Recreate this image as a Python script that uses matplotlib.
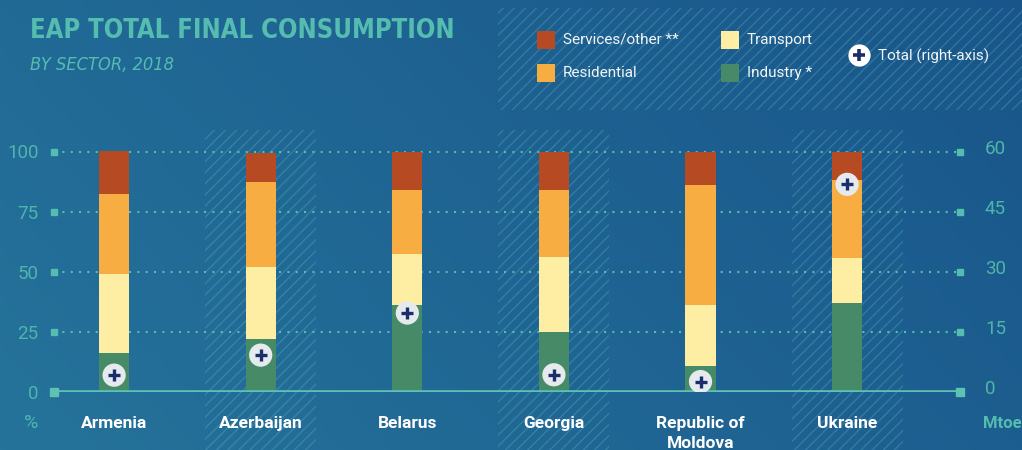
import numpy as np
import matplotlib
matplotlib.use("Agg")
import matplotlib.pyplot as plt
from matplotlib import font_manager as fm
from matplotlib.patches import Rectangle
from matplotlib.lines import Line2D
from matplotlib.transforms import blended_transform_factory, ScaledTranslation

# shares by sector (% of TFC) and total (Mtoe)
countries = ["Armenia", "Azerbaijan", "Belarus", "Georgia", "Republic of\nMoldova", "Ukraine"]
industry = [16.4, 22.0, 36.3, 25.0, 10.8, 37.0]
transport = [32.8, 29.8, 21.2, 31.2, 25.4, 18.8]
residential = [33.3, 35.7, 26.5, 27.8, 50.0, 32.5]
services = [17.5, 12.0, 16.0, 16.0, 13.8, 11.7]
total_mtoe = [4.2, 9.2, 19.7, 4.3, 2.6, 51.8]
left_ticks = [0, 25, 50, 75, 100]
right_ticks = [0, 15, 30, 45, 60]

C_SERV = "#b54a23"
C_RES = "#f7ad42"
C_TRANS = "#fdeea4"
C_IND = "#478a68"
TEAL = "#55bdb0"
TEAL_DIM = "#4fb5aa"
NAVY = "#1b2d6b"
HATCH = (0.40, 0.78, 0.80, 0.27)

plt.rcParams["font.family"] = ["Roboto", "DejaVu Sans"]
plt.rcParams["hatch.linewidth"] = 1.0

W, H = 1022, 450
fig = plt.figure(figsize=(W / 100, H / 100), dpi=100)


def fx(px):
    return px / W


def fy(py):
    return 1 - py / H


def have(props):
    try:
        path = fm.findfont(props, fallback_to_default=False)
        return path
    except Exception:
        return None


# condensed font for the heading
title_kw = dict(family=["Roboto", "DejaVu Sans"])
if have(fm.FontProperties(family="Liberation Sans Narrow")):
    title_kw = dict(family=["Liberation Sans Narrow", "DejaVu Sans"])
else:
    p = have(fm.FontProperties(family="DejaVu Sans", stretch="condensed", weight="bold"))
    if p and "Condensed" in p:
        title_kw = dict(family=["DejaVu Sans"], fontstretch="condensed")

# background gradient
bg = fig.add_axes([0, 0, 1, 1], zorder=-10)
gx, gy = np.meshgrid(np.linspace(0, 1, 200), np.linspace(0, 1, 100))
t = 0.7 * gx + 0.3 * (1 - gy)
c0 = np.array([37, 115, 155]) / 255
c1 = np.array([25, 85, 138]) / 255
img = c0[None, None, :] * (1 - t[..., None]) + c1[None, None, :] * t[..., None]
bg.imshow(img, aspect="auto", extent=[0, 1, 0, 1])
bg.axis("off")

# main axes
ax = fig.add_axes([fx(54), fy(392), fx(960) - fx(54), fy(140) - fy(392)])
ax.patch.set_alpha(0)
ytop = (392 - 140) / ((392 - 151.5) / 100)
x = np.arange(len(countries))

# hatched bands behind every other country
band_tr = blended_transform_factory(ax.transData, fig.transFigure)
for i in [1, 3, 5]:
    fig.add_artist(Rectangle((i - 0.378, 0), 0.757, fy(130), transform=band_tr,
                             facecolor="none", edgecolor=HATCH, hatch="///",
                             lw=0, zorder=-5))
# hatched legend panel
fig.add_artist(Rectangle((fx(498), fy(110)), 1 - fx(498), fy(8) - fy(110),
                         transform=fig.transFigure, facecolor="none",
                         edgecolor=HATCH, hatch="///", lw=0, zorder=-5))

for v in left_ticks[1:]:
    ax.axhline(v, color=TEAL, lw=1.5, ls=(0, (1, 3)), zorder=1)
ax.axhline(0, color="#5cc2b4", lw=2.6, zorder=4)

ytr = ax.get_yaxis_transform()
for side in [0, 1]:
    ax.plot([side] * 4, left_ticks[1:], "s", transform=ytr, ms=3.8, color=TEAL,
            clip_on=False, zorder=5)
    ax.plot([side], [0], "s", transform=ytr, ms=5.8, color="#5cc2b4",
            clip_on=False, zorder=5)

bw = 0.205
bottom = np.zeros(len(x))
for vals, col in [(industry, C_IND), (transport, C_TRANS), (residential, C_RES), (services, C_SERV)]:
    ax.bar(x, vals, bw, bottom=bottom, color=col, zorder=3)
    bottom += np.array(vals)

ax.set_xlim(-0.41, 5.77)
ax.set_ylim(0, ytop)
for s in ax.spines.values():
    s.set_visible(False)
ax.set_yticks(left_ticks)
ax.set_yticklabels([str(v) for v in left_ticks], fontsize=13.5, color=TEAL_DIM)
ax.tick_params(axis="y", length=0, pad=11)
ax.set_xticks(x)
ax.set_xticklabels(countries, fontsize=12.5, fontweight="bold", color="white",
                   linespacing=1.45)
ax.tick_params(axis="x", length=0, pad=17)

ax2 = ax.twinx()
ax2.set_ylim(0, 60 * ytop / 100)
for s in ax2.spines.values():
    s.set_visible(False)
ax2.set_yticks(right_ticks)
ax2.set_yticklabels([str(v) for v in right_ticks], fontsize=13.5, color=TEAL_DIM)
ax2.tick_params(axis="y", length=0, pad=18)
lift = ScaledTranslation(0, 5 / 100, fig.dpi_scale_trans)
for lab in ax2.get_yticklabels():
    lab.set_transform(lab.get_transform() + lift)
ax2.scatter(x, total_mtoe, s=280, color="#e4eaed", edgecolors="none", zorder=6)
ax2.scatter(x, total_mtoe, s=75, marker="+", color=NAVY, linewidths=2.4, zorder=7)

fig.text(fx(31), fy(423), "%", ha="center", va="center", fontsize=14,
         color=TEAL_DIM)
fig.text(fx(983), fy(423), "Mtoe", ha="left", va="center", fontsize=12,
         color=TEAL, fontweight="bold")

# heading
r = fig.canvas.get_renderer()
title = fig.text(fx(30), fy(38), "EAP TOTAL FINAL CONSUMPTION", ha="left",
                 va="baseline", fontsize=22, fontweight="bold", color=TEAL, **title_kw)
sub = fig.text(fx(30), fy(70), "BY SECTOR, 2018", ha="left", va="baseline",
               fontsize=16, fontstyle="italic", fontweight="light", color=TEAL, **title_kw)
for txt, wpx in [(title, 424), (sub, 144)]:
    w = txt.get_window_extent(r).width
    txt.set_fontsize(txt.get_fontsize() * wpx / w)

# legend
items = [(537, 31, C_SERV, "Services/other **"), (537, 64, C_RES, "Residential"),
         (721, 31, C_TRANS, "Transport"), (721, 64, C_IND, "Industry *")]
for px, py, col, lab in items:
    fig.add_artist(Rectangle((fx(px), fy(py + 18)), fx(18), 18 / H,
                             transform=fig.transFigure, facecolor=col, lw=0))
    fig.text(fx(px + 26), fy(py + 9), lab, ha="left", va="center", fontsize=11,
             color="#f2f5f6")
fig.add_artist(Line2D([fx(859)], [fy(55)], transform=fig.transFigure, marker="o",
                      ms=16, color="white", mec="none"))
fig.add_artist(Line2D([fx(859)], [fy(55)], transform=fig.transFigure, marker="+",
                      ms=9, mew=2.6, color=NAVY))
fig.text(fx(878), fy(56), "Total (right-axis)", ha="left", va="center",
         fontsize=11, color="#f2f5f6")

fig.savefig("out.png", dpi=100)
